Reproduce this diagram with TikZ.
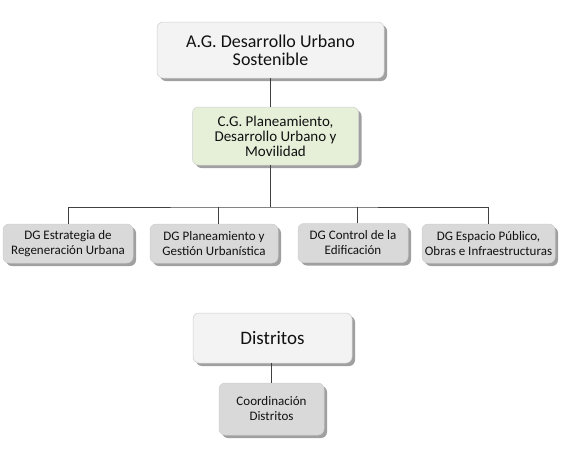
\documentclass[tikz,border=0pt]{standalone}
\usepackage{fontspec}
\setmainfont{Carlito}
\usetikzlibrary{shadows}
\definecolor{boxline}{HTML}{CFCFCF}
\definecolor{headfill}{HTML}{F3F3F3}
\definecolor{greenfill}{HTML}{E6F0D9}
\definecolor{grayfill}{HTML}{D9D9D9}
\definecolor{shade}{HTML}{A0A0A0}
\definecolor{txt}{HTML}{111111}
\definecolor{edge}{HTML}{404040}
\begin{document}
\begin{tikzpicture}[x=1pt,y=-1pt,
    unit/.style={draw=boxline,line width=0.5pt,rounded corners=6pt,align=center,text=txt,inner sep=0pt,
      drop shadow={shadow xshift=3pt,shadow yshift=-3pt,fill=shade,opacity=1}},
    head/.style={unit,fill=headfill,font=\fontsize{18}{18}\selectfont},
    center/.style={unit,fill=greenfill,font=\fontsize{15}{15}\selectfont},
    dg/.style={unit,fill=grayfill,minimum height=39pt,font=\fontsize{13}{15}\selectfont}]
      \useasboundingbox (0,0) rectangle (562,459);
      \draw
        (270.5,50) node[head,minimum width=227pt,minimum height=56pt] (ag){A.G. Desarrollo Urbano\\Sostenible}
        (275.5,136) node[center,minimum width=166pt,minimum height=58pt] (cg){C.G. Planeamiento,\\Desarrollo Urbano y\\Movilidad}
        (68,243.5) node[dg,minimum width=130pt] (dg1){DG Estrategia de\\Regeneración Urbana}
        (214,243.5) node[dg,minimum width=128pt] (dg2){DG Planeamiento y\\Gestión Urbanística}
        (353,243) node[dg,minimum width=110pt] (dg3){DG Control de la\\Edificación}
        (488.5,243.5) node[dg,minimum width=133pt] (dg4){DG Espacio Público,\\Obras e Infraestructuras}
        (272.5,338) node[head,minimum width=159pt,minimum height=50pt,font=\fontsize{19}{19}\selectfont] (dis){Distritos}
        (271.5,409) node[dg,minimum width=105pt,minimum height=52pt] (co){Coordinación\\Distritos};
      \coordinate (bus) at (270,207);
      \begin{scope}[draw=edge,line width=0.8pt]
        \draw (ag.south) -- (ag.south |- cg.north);
        \draw (cg.south -| bus) -- (bus);
        \draw (dg1.north) |- (bus) -| (dg4.north);
        \draw ([xshift=4pt]dg2.north) -- ([xshift=4pt]dg2.north |- bus);
        \draw ([xshift=4pt]dg3.north) -- ([xshift=4pt]dg3.north |- bus);
        \draw (dis.south -| co.north) -- (co.north);
      \end{scope}
    \end{tikzpicture}
\end{document}
